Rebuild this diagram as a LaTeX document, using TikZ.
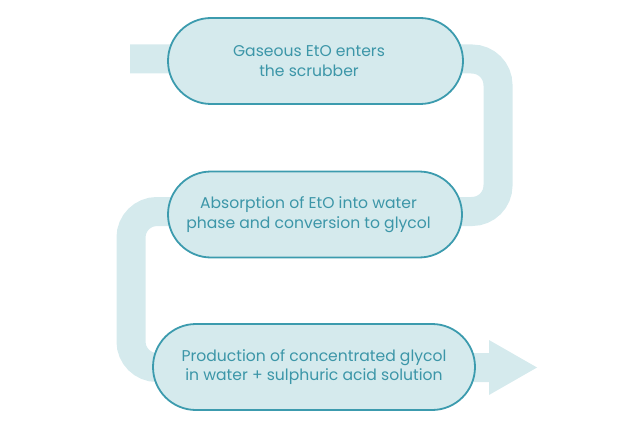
\documentclass[tikz,border=0pt]{standalone}
\usepackage{fontspec}
\setmainfont{Poppins}
\definecolor{bandc}{RGB}{213,234,237}
\definecolor{boxfill}{RGB}{213,234,237}
\definecolor{boxline}{RGB}{60,155,174}
\definecolor{txt}{RGB}{60,150,168}
\newcommand{\lsh}{\hspace*{13pt}}
\begin{document}
\begin{tikzpicture}[x=1pt,y=-1pt,
  stage/.style={draw=boxline, line width=1.8pt, fill=boxfill, rounded corners=43pt,
     minimum height=86pt, align=center, text=txt, font=\fontsize{15.6}{19.5}\selectfont, inner sep=0pt},
  band/.style={draw=bandc, line width=29pt, rounded corners=26pt}]
\useasboundingbox (0,0) rectangle (640,441);
% band waypoints
\coordinate (s) at (130,59);
\coordinate (c1) at (498,59);
\coordinate (c2) at (498,211.5);
\coordinate (c3) at (131,211.5);
\coordinate (c4) at (131,367.5);
\coordinate (e) at (489,367.5);
\coordinate (tip) at (537,367.5);
\draw[band] (s) -- (c1) -- (c2) -- (c3) -- (c4) -- (e);
\fill[bandc] (489,340) -- (tip) -- (489,395) -- cycle;
% stages
\node[stage, minimum width=295pt] (a) at (315.5,61) {Gaseous EtO enters\lsh\\the scrubber\lsh};
\node[stage, minimum width=294pt] (b) at (315,214.5) {Absorption of EtO into water\lsh\\phase and conversion to glycol\lsh};
\node[stage, minimum width=322pt] (c) at (314,367) {Production of concentrated glycol\\in water + sulphuric acid solution};
\end{tikzpicture}
\end{document}
